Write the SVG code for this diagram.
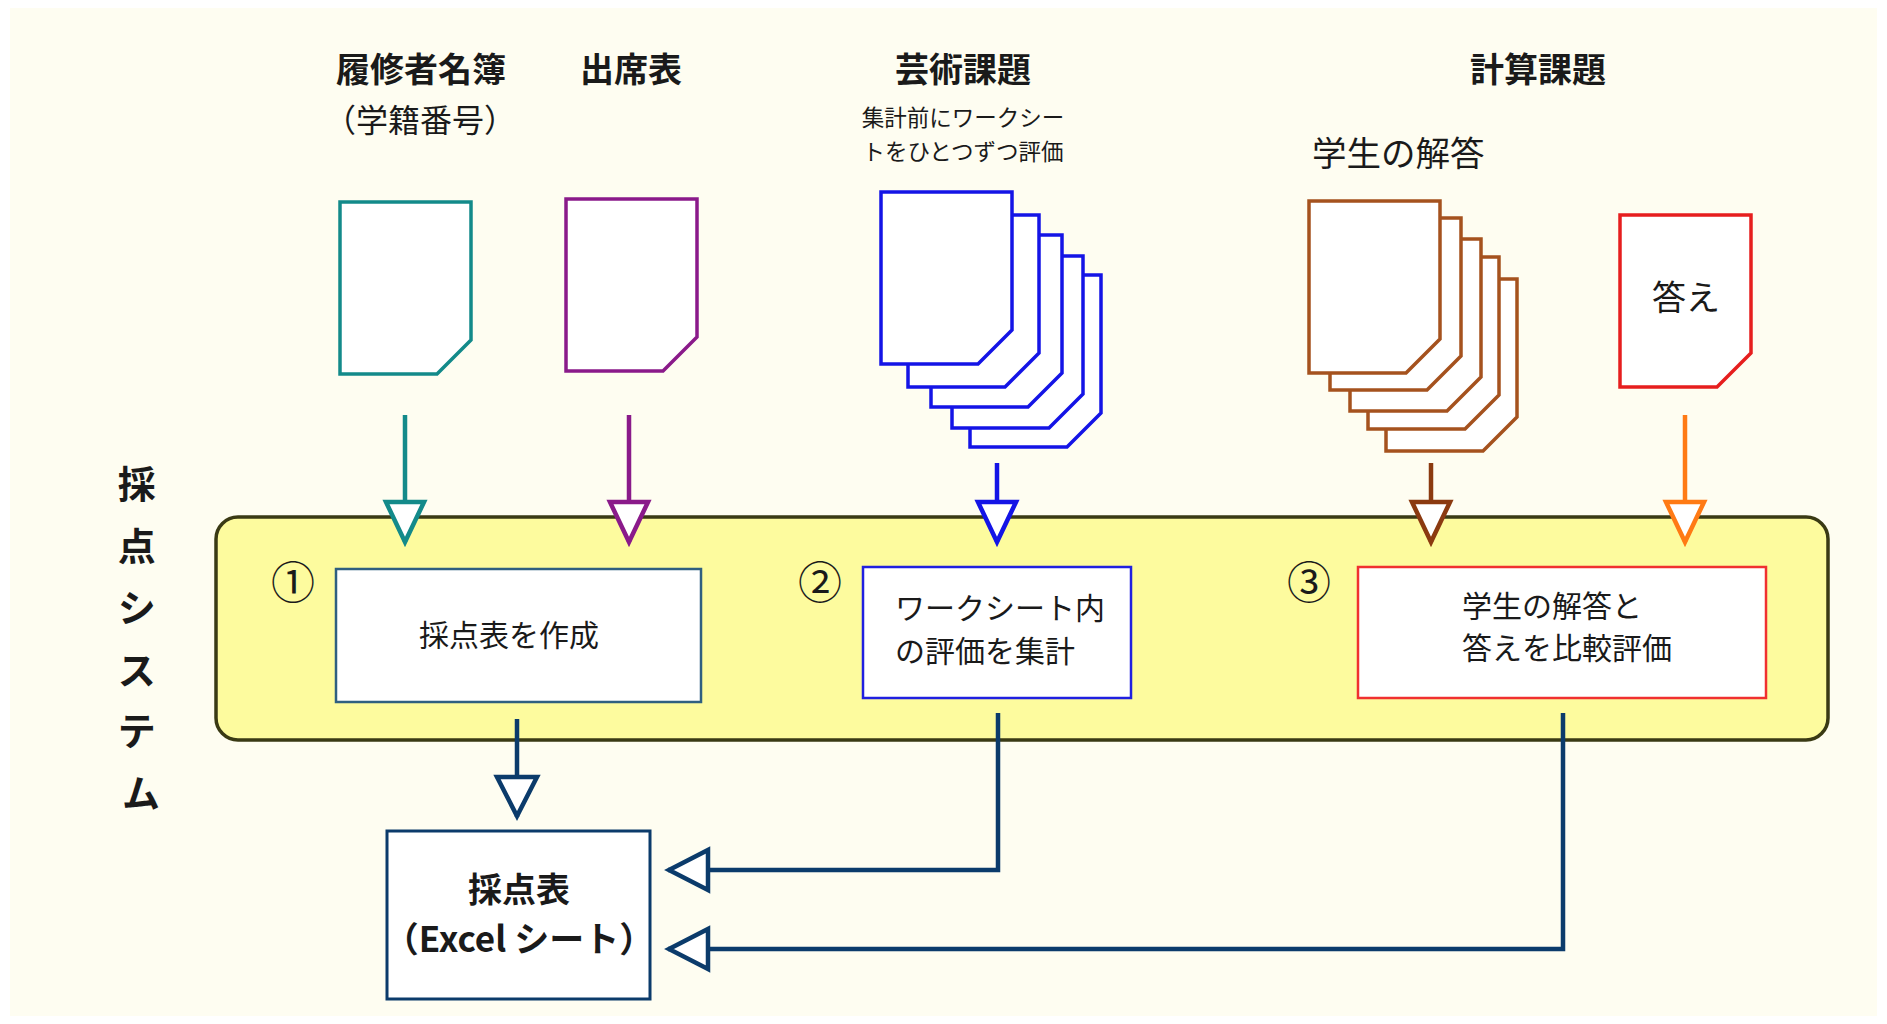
<svg xmlns="http://www.w3.org/2000/svg" xmlns:xlink="http://www.w3.org/1999/xlink" width="1887" height="1024" viewBox="0 0 1887 1024">
<style>
  text { font-family: "Noto Sans CJK JP", "Noto Sans", sans-serif; fill: #1a1a1a; }
  .title { font-size: 34px; font-weight: 700; text-anchor: middle; }
  .sub { font-size: 32px; text-anchor: middle; }
  .note { font-size: 22.5px; text-anchor: middle; }
  .box { font-size: 30px; }
  .num { font-size: 44px; text-anchor: middle; }
  .doc { fill: #ffffff; stroke-width: 3.5; stroke-linejoin: miter; }
  .teal { stroke: #138a8a; }
  .purple { stroke: #8a1a8a; }
  .blue { stroke: #1414e6; }
  .brown { stroke: #a5521e; }
  .red { stroke: #e61e1e; }
  .conn { fill: none; stroke-width: 4.5; }
</style>
<defs>
  <path id="docShape" d="M0,0 H131 V138 L97,172 H0 Z"/>
  <marker id="ahTeal" markerUnits="userSpaceOnUse" viewBox="-6 -26 52 52" markerWidth="52" markerHeight="52" refX="40" refY="0" orient="auto">
    <path d="M0,-19 L40,0 L0,19 Z" fill="#ffffff" stroke="#138a8a" stroke-width="4.5"/>
  </marker>
  <marker id="ahPurple" markerUnits="userSpaceOnUse" viewBox="-6 -26 52 52" markerWidth="52" markerHeight="52" refX="40" refY="0" orient="auto">
    <path d="M0,-19 L40,0 L0,19 Z" fill="#ffffff" stroke="#8a1a8a" stroke-width="4.5"/>
  </marker>
  <marker id="ahBlue" markerUnits="userSpaceOnUse" viewBox="-6 -26 52 52" markerWidth="52" markerHeight="52" refX="40" refY="0" orient="auto">
    <path d="M0,-19 L40,0 L0,19 Z" fill="#ffffff" stroke="#1414e6" stroke-width="4.5"/>
  </marker>
  <marker id="ahBrown" markerUnits="userSpaceOnUse" viewBox="-6 -26 52 52" markerWidth="52" markerHeight="52" refX="40" refY="0" orient="auto">
    <path d="M0,-19 L40,0 L0,19 Z" fill="#ffffff" stroke="#8b3a10" stroke-width="4.5"/>
  </marker>
  <marker id="ahOrange" markerUnits="userSpaceOnUse" viewBox="-6 -26 52 52" markerWidth="52" markerHeight="52" refX="40" refY="0" orient="auto">
    <path d="M0,-19 L40,0 L0,19 Z" fill="#ffffff" stroke="#ff7a14" stroke-width="4.5"/>
  </marker>
  <marker id="ahNavy" markerUnits="userSpaceOnUse" viewBox="-6 -26 52 52" markerWidth="52" markerHeight="52" refX="40" refY="0" orient="auto">
    <path d="M0,-20 L39,0 L0,20 Z" fill="#ffffff" stroke="#0b3b6b" stroke-width="4.5"/>
  </marker>
</defs>

<rect x="0" y="0" width="1887" height="1024" fill="#ffffff"/>
<rect x="10" y="8" width="1867" height="1008" fill="#fefdf1"/>

<g id="label-system">
  <text x="141" font-size="38" font-weight="700" text-anchor="middle">
    <tspan x="141" y="498">採</tspan>
    <tspan x="141" y="560">点</tspan>
    <tspan x="141" y="622">シ</tspan>
    <tspan x="141" y="684">ス</tspan>
    <tspan x="141" y="745">テ</tspan>
    <tspan x="141" y="807">ム</tspan>
  </text>
</g>

<g id="system-box">
  <rect x="216" y="517" width="1612" height="223" rx="22" ry="22" fill="#fdfb9e" stroke="#3a3a14" stroke-width="3.5"/>
</g>

<g id="doc-roster">
  <text class="title" x="421" y="82">履修者名簿</text>
  <text class="sub" x="420" y="132">（学籍番号）</text>
  <use xlink:href="#docShape" href="#docShape" x="340" y="202" class="doc teal"/>
</g>

<g id="doc-attendance">
  <text class="title" x="631" y="82">出席表</text>
  <use xlink:href="#docShape" href="#docShape" x="566" y="199" class="doc purple"/>
</g>

<g id="doc-art">
  <text class="title" x="963" y="82">芸術課題</text>
  <text class="note" x="963" y="126">集計前にワークシー</text>
  <text class="note" x="963" y="160">トをひとつずつ評価</text>
  <use xlink:href="#docShape" href="#docShape" x="970" y="275" class="doc blue"/>
  <use xlink:href="#docShape" href="#docShape" x="952" y="256" class="doc blue"/>
  <use xlink:href="#docShape" href="#docShape" x="931" y="235" class="doc blue"/>
  <use xlink:href="#docShape" href="#docShape" x="908" y="215" class="doc blue"/>
  <use xlink:href="#docShape" href="#docShape" x="881" y="192" class="doc blue"/>
</g>

<g id="doc-calc">
  <text class="title" x="1538" y="82">計算課題</text>
  <text x="1312" y="166" font-size="34.5">学生の解答</text>
  <use xlink:href="#docShape" href="#docShape" x="1386" y="279" class="doc brown"/>
  <use xlink:href="#docShape" href="#docShape" x="1368" y="257" class="doc brown"/>
  <use xlink:href="#docShape" href="#docShape" x="1350" y="239" class="doc brown"/>
  <use xlink:href="#docShape" href="#docShape" x="1330" y="218" class="doc brown"/>
  <use xlink:href="#docShape" href="#docShape" x="1309" y="201" class="doc brown"/>
</g>

<g id="doc-answer">
  <use xlink:href="#docShape" href="#docShape" x="1620" y="215" class="doc red"/>
  <text x="1686" y="310" font-size="34" text-anchor="middle">答え</text>
</g>

<g id="step1">
  <text class="num" x="293" y="599">①</text>
  <rect x="336" y="569" width="365" height="133" fill="#ffffff" stroke="#2f5f80" stroke-width="2.5"/>
  <text class="box" x="509" y="646" text-anchor="middle">採点表を作成</text>
</g>

<g id="step2">
  <text class="num" x="820" y="599">②</text>
  <rect x="863" y="567" width="268" height="131" fill="#ffffff" stroke="#2020e0" stroke-width="2.5"/>
  <text class="box" x="895" y="619">ワークシート内</text>
  <text class="box" x="895" y="662">の評価を集計</text>
</g>

<g id="step3">
  <text class="num" x="1309" y="599">③</text>
  <rect x="1358" y="567" width="408" height="131" fill="#ffffff" stroke="#f03030" stroke-width="2.5"/>
  <text class="box" x="1462" y="617">学生の解答と</text>
  <text class="box" x="1462" y="659">答えを比較評価</text>
</g>

<g id="score-sheet">
  <rect x="387" y="831" width="263" height="168" fill="#ffffff" stroke="#0b3b6b" stroke-width="3"/>
  <text x="519" y="902" font-size="34" font-weight="700" text-anchor="middle">採点表</text>
  <text x="519" y="952" font-size="35" font-weight="700" text-anchor="middle">（Excel シート）</text>
</g>

<g id="connectors">
  <path class="conn" d="M405,415 V542" stroke="#138a8a" marker-end="url(#ahTeal)"/>
  <path class="conn" d="M629,415 V542" stroke="#8a1a8a" marker-end="url(#ahPurple)"/>
  <path class="conn" d="M997,463 V542" stroke="#1414e6" marker-end="url(#ahBlue)"/>
  <path class="conn" d="M1431,463 V542" stroke="#8b3a10" marker-end="url(#ahBrown)"/>
  <path class="conn" d="M1685,415 V542" stroke="#ff7a14" marker-end="url(#ahOrange)"/>
  <path class="conn" d="M517,719 V817" stroke="#0b3b6b" marker-end="url(#ahNavy)"/>
  <path class="conn" d="M998,713 V870 H668" stroke="#0b3b6b" stroke-width="5.5" marker-end="url(#ahNavy)"/>
  <path class="conn" d="M1563,713 V949 H668" stroke="#0b3b6b" stroke-width="5.5" marker-end="url(#ahNavy)"/>
</g>
</svg>
